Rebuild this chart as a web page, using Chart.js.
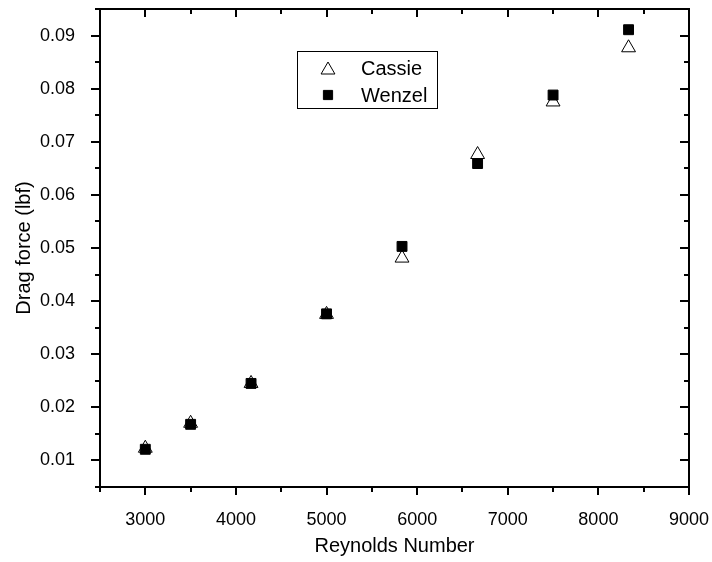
<!DOCTYPE html>
<html>
<head>
<meta charset="utf-8">
<script src="https://cdn.jsdelivr.net/npm/chart.js@4/dist/chart.umd.min.js"></script>
<style>
  html, body { margin: 0; padding: 0; background: #fff; }
  #wrap { width: 712px; height: 562px; }
</style>
</head>
<body>
<div id="wrap"><canvas id="chart" width="712" height="562"></canvas></div>
<script>
// Reynolds numbers on the x axis
const reynolds = [3000, 3500, 4167, 5000, 5833, 6667, 7500, 8333];
// Drag force (lbf) per case
const cassie = [0.0123, 0.0170, 0.0245, 0.0375, 0.0481, 0.0676, 0.0775, 0.0877];
const wenzel = [0.0121, 0.0168, 0.0245, 0.0376, 0.0503, 0.0659, 0.0788, 0.0911];
// axis ranges and tick steps
const xRange = [2500, 9000];
const xStep = 500;
const yRange = [0.005, 0.095];
const yStep = 0.005;

const FONT = '"Liberation Sans", Arial, sans-serif';

function toPoints(xs, ys) {
    return xs.map((x, i) => ({ x: x, y: ys[i] }));
}

// no extra room for overhanging labels, the plot box is fixed
function noPad(s) {
    s.paddingTop = 0;
    s.paddingBottom = 0;
    s.paddingLeft = 0;
    s.paddingRight = 0;
}

// frame, inner/outer ticks (major + minor) and the legend box
const framePlugin = {
    id: 'frame',
    afterDraw(chart) {
        const ctx = chart.ctx;
        const a = chart.chartArea;
        const xs = chart.scales.x;
        const ys = chart.scales.y;
        ctx.save();
        ctx.strokeStyle = '#000';
        ctx.lineWidth = 2;
        ctx.beginPath();
        ctx.moveTo(a.left, a.top);
        ctx.lineTo(a.right, a.top);
        ctx.lineTo(a.right, a.bottom);
        ctx.lineTo(a.left, a.bottom);
        ctx.closePath();
        ctx.stroke();

        ctx.beginPath();
        xs.ticks.forEach(t => {
            const px = Math.round(xs.getPixelForValue(t.value));
            const major = Math.round(t.value) % 1000 === 0;
            const len = major ? 8 : 5;
            ctx.moveTo(px, a.bottom);
            ctx.lineTo(px, a.bottom + len);
            ctx.moveTo(px, a.top);
            ctx.lineTo(px, a.top + len);
        });
        ys.ticks.forEach(t => {
            const py = Math.round(ys.getPixelForValue(t.value));
            const major = Math.round(t.value * 1000) % 10 === 0;
            const len = major ? 9 : 5;
            ctx.moveTo(a.left, py);
            ctx.lineTo(a.left - len, py);
            ctx.moveTo(a.right, py);
            ctx.lineTo(a.right - len, py);
        });
        ctx.stroke();

        // legend
        const lx = 297, ly = 51, lw = 140, lh = 57;
        ctx.lineWidth = 1;
        ctx.strokeRect(lx + 0.5, ly + 0.5, lw, lh);
        const items = chart.data.datasets.slice().sort((p, q) => p.legendRank - q.legendRank);
        items.forEach((ds, i) => {
            const cy = ly + 17 + i * 27;
            ctx.fillStyle = ds.backgroundColor;
            ctx.strokeStyle = ds.borderColor;
            ctx.lineWidth = ds.borderWidth;
            Chart.helpers.drawPoint(ctx, {
                pointStyle: ds.pointStyle,
                radius: ds.legendRadius,
                borderWidth: ds.borderWidth
            }, lx + 31, cy + (ds.pointStyle === 'triangle' ? 2 : 0));
            ctx.fillStyle = '#000';
            ctx.font = '20px ' + FONT;
            ctx.textBaseline = 'middle';
            ctx.fillText(ds.label, lx + 64, cy + 1);
        });
        ctx.restore();
    }
};

const ctx = document.getElementById('chart').getContext('2d');
new Chart(ctx, {
    type: 'scatter',
    data: {
        datasets: [
            {
                label: 'Wenzel',
                data: toPoints(reynolds, wenzel),
                pointStyle: 'rect',
                pointRadius: 7,
                pointHoverRadius: 7,
                backgroundColor: '#000',
                borderColor: '#000',
                borderWidth: 1,
                order: 0,
                legendRank: 1,
                legendRadius: 6.5
            },
            {
                label: 'Cassie',
                data: toPoints(reynolds, cassie),
                pointStyle: 'triangle',
                pointRadius: 8,
                pointHoverRadius: 8,
                backgroundColor: '#fff',
                borderColor: '#000',
                borderWidth: 1,
                order: 1,
                legendRank: 0,
                legendRadius: 8
            }
        ]
    },
    options: {
        responsive: false,
        animation: false,
        events: [],
        layout: { padding: { top: 7, right: 23, left: 0, bottom: 0 } },
        plugins: {
            legend: { display: false },
            tooltip: { enabled: false }
        },
        scales: {
            x: {
                type: 'linear',
                min: xRange[0],
                max: xRange[1],
                afterFit: s => { s.height = 75; noPad(s); },
                grid: { display: false },
                border: { display: false },
                ticks: {
                    stepSize: xStep,
                    autoSkip: false,
                    maxRotation: 0,
                    padding: 14,
                    color: '#000',
                    font: { family: FONT, size: 18 },
                    callback: v => (v % 1000 === 0 && v > xRange[0]) ? String(v) : ''
                },
                title: {
                    display: true,
                    text: 'Reynolds Number',
                    color: '#000',
                    font: { family: FONT, size: 20 },
                    padding: { top: 0, bottom: 4 }
                }
            },
            y: {
                type: 'linear',
                min: yRange[0],
                max: yRange[1],
                afterFit: s => { s.width = 100; noPad(s); },
                grid: { display: false },
                border: { display: false },
                ticks: {
                    stepSize: yStep,
                    autoSkip: false,
                    padding: 17,
                    color: '#000',
                    font: { family: FONT, size: 18 },
                    callback: v => {
                        const k = Math.round(v * 1000);
                        return (k % 10 === 0) ? (k / 1000).toFixed(2) : '';
                    }
                },
                title: {
                    display: true,
                    text: 'Drag force (lbf)',
                    color: '#000',
                    font: { family: FONT, size: 20 },
                    padding: { top: 12, bottom: 0 }
                }
            }
        }
    },
    plugins: [framePlugin]
});
</script>
</body>
</html>
